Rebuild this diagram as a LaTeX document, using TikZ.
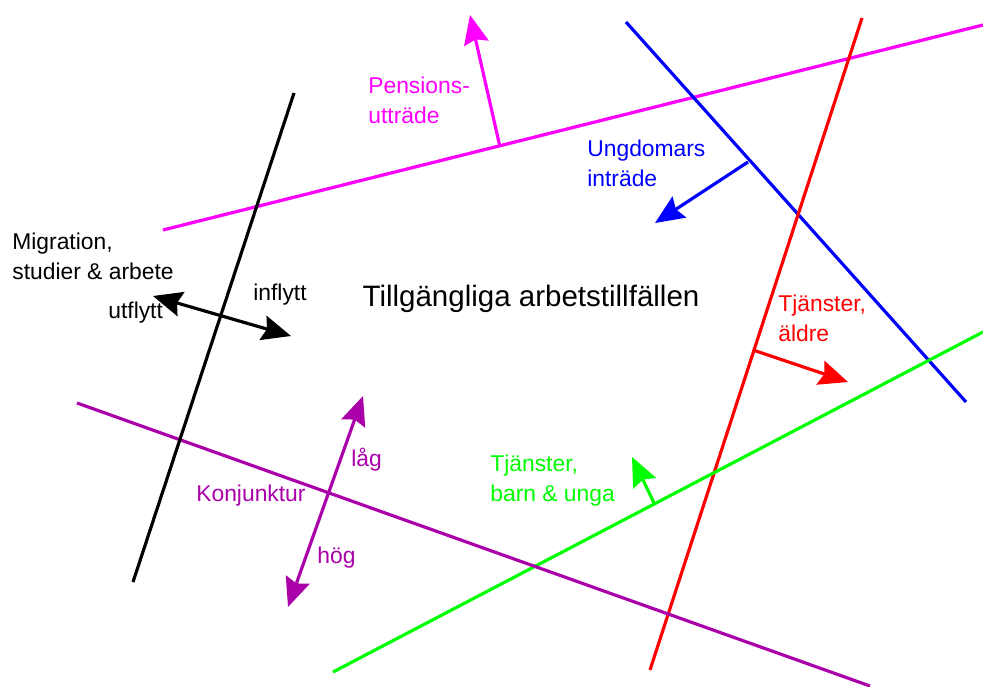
\documentclass[tikz,border=0pt]{standalone}
\usepackage{fontspec}
\setmainfont{Liberation Sans}
\usetikzlibrary{arrows.meta}
\definecolor{konj}{RGB}{170,0,170}
\definecolor{pens}{RGB}{255,0,255}
\definecolor{ungd}{RGB}{0,0,255}
\definecolor{aldre}{RGB}{255,0,0}
\definecolor{barn}{RGB}{0,255,0}
\tikzset{
  kraft/.style={line width=1.8pt},
  spets/.style={-{Stealth[length=0.58cm,width=0.5cm,inset=0.08cm]}},
  dubbel/.style={{Stealth[length=0.58cm,width=0.5cm,inset=0.08cm]}-{Stealth[length=0.58cm,width=0.5cm,inset=0.08cm]}},
  etikett/.style={anchor=west,inner sep=0pt,align=left,font=\fontsize{13}{17}\selectfont}
}
\begin{document}
\begin{tikzpicture}[x={(0.02cm,0cm)},y={(0cm,-0.02cm)}]
\useasboundingbox (0,0) rectangle (983,686);
% linjer
\coordinate (pa) at (163,230); \coordinate (pb) at (983,25);
\coordinate (ua) at (626,22);  \coordinate (ub) at (966,402);
\coordinate (ta) at (862,18);  \coordinate (tb) at (650,670);
\coordinate (ba) at (333,672); \coordinate (bb) at (983,332);
\coordinate (ka) at (77,403);  \coordinate (kb) at (870,686);
\coordinate (ma) at (294,93);  \coordinate (mb) at (133,582);
\draw[kraft,pens] (pa) -- (pb);
\draw[kraft,ungd] (ua) -- (ub);
\draw[kraft,aldre] (ta) -- (tb);
\draw[kraft,barn] (ba) -- (bb);
\draw[kraft,konj] (ka) -- (kb);
\draw[kraft,black] (ma) -- (mb);
% pilar
\coordinate (p0) at (500,147); \coordinate (p1) at (470,15);
\coordinate (u0) at (748,162); \coordinate (u1) at (655,223);
\coordinate (t0) at (753,350); \coordinate (t1) at (848,382);
\coordinate (b0) at (655,505); \coordinate (b1) at (632,457);
\coordinate (k0) at (288,607); \coordinate (k1) at (363,396);
\coordinate (m0) at (153,296); \coordinate (m1) at (291,336);
\draw[kraft,spets,pens] (p0) -- (p1);
\draw[kraft,spets,ungd] (u0) -- (u1);
\draw[kraft,spets,aldre] (t0) -- (t1);
\draw[kraft,spets,barn] (b0) -- (b1);
\draw[kraft,dubbel,konj] (k0) -- (k1);
\draw[kraft,dubbel,black] (m0) -- (m1);
% texter
\node[anchor=center,inner sep=0pt,font=\fontsize{16.8}{20}\selectfont] (mitt) at (531,299) {Tillgängliga arbetstillfällen};
\node[etikett,pens] (pensions) at (368,100) {Pensions-\\utträde};
\node[etikett,ungd] (ungdomar) at (587,163) {Ungdomars\\inträde};
\node[etikett,aldre] (tjaldre) at (778,318) {Tjänster,\\äldre};
\node[etikett,barn] (tjbarn) at (490,481) {Tjänster,\\barn \& unga};
\node[etikett] (migr) at (12,256) {Migration,\\studier \& arbete};
\node[etikett] (in) at (253,295) {inflytt};
\node[etikett] (ut) at (108,313) {utflytt};
\node[etikett,konj] (konjunktur) at (196,496) {Konjunktur};
\node[etikett,konj] (lag) at (351,460) {låg};
\node[etikett,konj] (hog) at (317,558) {hög};
\end{tikzpicture}
\end{document}
